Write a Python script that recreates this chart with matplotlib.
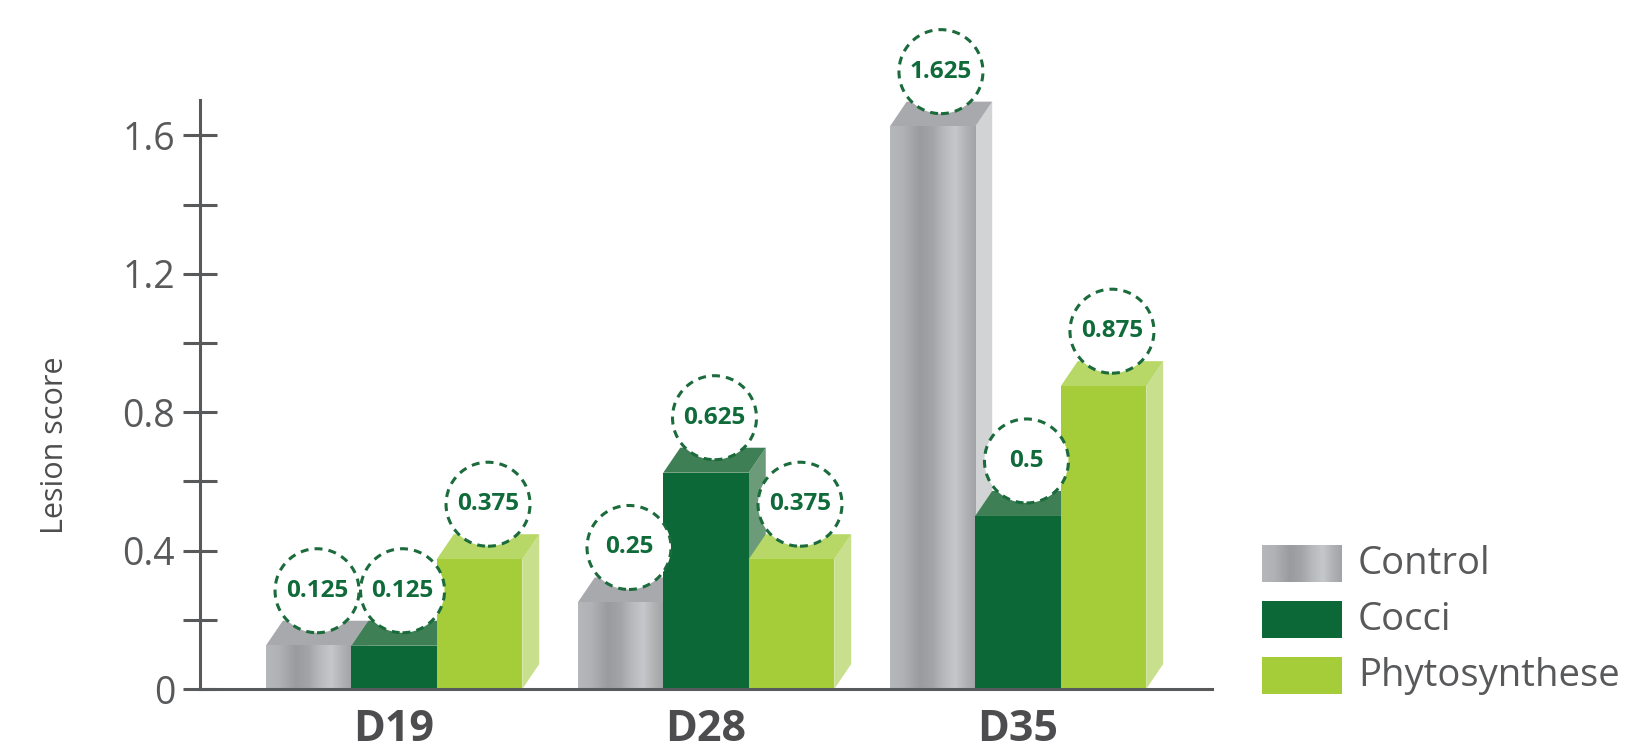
import matplotlib
matplotlib.use('Agg')
import matplotlib.pyplot as plt
import numpy as np
from matplotlib.patches import Polygon, Rectangle, Ellipse
from matplotlib.colors import LinearSegmentedColormap

days = ['D19', 'D28', 'D35']
series = ['Control', 'Cocci', 'Phytosynthese']
control = [0.125, 0.25, 1.625]
cocci = [0.125, 0.625, 0.5]
phyto = [0.375, 0.375, 0.875]
value_labels = [['0.125', '0.25', '1.625'],
                ['0.125', '0.625', '0.5'],
                ['0.375', '0.375', '0.875']]
yticks = [0, 0.2, 0.4, 0.6, 0.8, 1.0, 1.2, 1.4, 1.6]
ytick_labels = ['0', '', '0.4', '', '0.8', '', '1.2', '', '1.6']

plt.rcParams['font.family'] = ['Open Sans', 'DejaVu Sans']

grey_txt = '#58595b'
green_txt = '#0f6b3a'
# front / top / side colours per series (None front = metallic gradient)
faces = {
    'Control': (None, '#a8a9ac', '#d2d3d5'),
    'Cocci': ('#0c6837', '#3f7f56', '#6b9b78'),
    'Phytosynthese': ('#a5cd39', '#b7d766', '#c8e08d'),
}
metal = LinearSegmentedColormap.from_list('metal', [
    (0.0, '#b6b7ba'), (0.15, '#b1b2b5'), (0.35, '#9a9b9e'), (0.5, '#a4a5a8'),
    (0.62, '#b6b8bb'), (0.76, '#c5c8cb'), (0.9, '#aeb0b2'), (1.0, '#a2a3a6')])
grad = np.linspace(0, 1, 256).reshape(1, -1)

fig = plt.figure(figsize=(16.52, 7.53), dpi=100)
ax = fig.add_axes([200 / 1652, 64 / 753, 1012 / 1652, 589 / 753])
ax.set_xlim(-0.622, 2.622)
ax.set_ylim(0, 1.702)

# pixels per data unit, for the fake depth and the round badges
fig.canvas.draw()
p0 = ax.transData.transform((0, 0))
p1 = ax.transData.transform((1, 1))
px_x, px_y = p1[0] - p0[0], p1[1] - p0[1]

w = 85.5 / px_x
dx, dy = 17 / px_x, 25 / px_y
r_x, r_y = 42 / px_x, 42 / px_y

data = [control, cocci, phyto]
z = 2
for i, day in enumerate(days):
    for j, name in enumerate(series):
        h = data[j][i]
        x0 = i - 1.5 * w + j * w
        front, top, side = faces[name]
        ax.add_patch(Polygon([(x0 + w, 0), (x0 + w + dx, dy), (x0 + w + dx, h + dy), (x0 + w, h)],
                             closed=True, facecolor=side, edgecolor='none', zorder=z))
        ax.add_patch(Polygon([(x0, h), (x0 + dx, h + dy), (x0 + w + dx, h + dy), (x0 + w, h)],
                             closed=True, facecolor=top, edgecolor='none', zorder=z))
        if front is None:
            ax.imshow(grad, cmap=metal, extent=(x0, x0 + w, 0, h), aspect='auto',
                      interpolation='bilinear', zorder=z + 0.5)
        else:
            ax.add_patch(Rectangle((x0, 0), w, h, facecolor=front, edgecolor='none', zorder=z + 0.5))
        z += 1

for i, day in enumerate(days):
    for j, name in enumerate(series):
        h = data[j][i]
        x0 = i - 1.5 * w + j * w
        cx, cy = x0 + w / 2 + dx / 2, h + 55 / px_y
        ax.add_patch(Ellipse((cx, cy), 2 * r_x, 2 * r_y, facecolor='white', edgecolor='#1b6b3c',
                             linewidth=2.2, linestyle=(0, (2.6, 2.0)), zorder=50, clip_on=False))
        ax.text(cx, cy, value_labels[j][i], ha='center', va='center', fontsize=17.5,
                fontweight='bold', color=green_txt, zorder=51)

ax.set_xlim(-0.622, 2.622)
ax.set_ylim(0, 1.702)
for s in ['top', 'right']:
    ax.spines[s].set_visible(False)
for s in ['left', 'bottom']:
    ax.spines[s].set_color(grey_txt)
    ax.spines[s].set_linewidth(2.2)
    ax.spines[s].set_zorder(60)

ax.set_yticks(yticks)
ax.set_yticklabels(ytick_labels)
ax.tick_params(axis='y', direction='inout', length=24, width=2.2, color=grey_txt,
               labelsize=27, labelcolor=grey_txt, pad=6)
ax.set_xticks(range(len(days)))
ax.set_xticklabels(days, fontsize=31, fontweight='bold', color='#4d4d4f')
ax.tick_params(axis='x', length=0, pad=14)

fig.text(55 / 1652, 1 - 445 / 753, 'Lesion score', rotation=90, ha='center', va='center',
         fontsize=22, color='#4d4d4f')

# legend drawn on an overlay in pixel space
lax = fig.add_axes([0, 0, 1, 1], zorder=10)
lax.set_xlim(0, 1652)
lax.set_ylim(753, 0)
lax.axis('off')
swatch_top = [545, 601, 657]
for k, name in enumerate(series):
    y0 = swatch_top[k]
    if faces[name][0] is None:
        lax.imshow(grad, cmap=metal, extent=(1262, 1342, y0 + 37, y0), aspect='auto',
                   interpolation='bilinear')
    else:
        lax.add_patch(Rectangle((1262, y0), 80, 37, facecolor=faces[name][0], edgecolor='none'))
    lax.text(1358, y0 + 19, name, ha='left', va='center', fontsize=27.5, color=grey_txt)
lax.set_xlim(0, 1652)
lax.set_ylim(753, 0)

fig.savefig('out.png', dpi=100)
